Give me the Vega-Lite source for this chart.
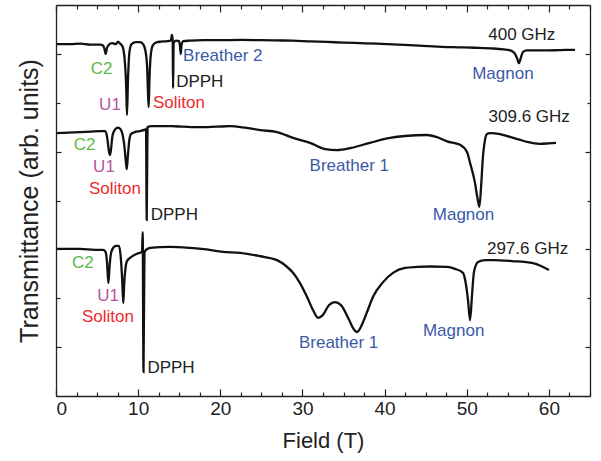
{
  "$schema": "https://vega.github.io/schema/vega-lite/v6.json",
  "width": 534,
  "height": 391,
  "autosize": "none",
  "padding": {"left": 56, "top": 5, "right": 11, "bottom": 65},
  "background": "white",
  "config": {
    "view": {"stroke": null},
    "font": "Liberation Sans",
    "axis": {"grid": false, "domainColor": "#222", "domainWidth": 1.3, "tickColor": "#222", "tickWidth": 1.2, "labelColor": "#222", "titleColor": "#222", "labelFont": "Liberation Sans", "titleFont": "Liberation Sans", "titleFontWeight": "normal"}
  },
  "datasets": {
    "traces": [
      {"series": "400", "x": 0.12, "y": 7.20}, {"series": "400", "x": 1.7, "y": 7.20}, {"series": "400", "x": 3.0, "y": 7.21}, {"series": "400", "x": 4.14, "y": 7.19}, {"series": "400", "x": 5.36, "y": 7.19}, {"series": "400", "x": 5.72, "y": 7.17}, {"series": "400", "x": 5.9, "y": 7.10}, {"series": "400", "x": 6.05, "y": 7.00}, {"series": "400", "x": 6.2, "y": 7.12}, {"series": "400", "x": 6.45, "y": 7.19}, {"series": "400", "x": 6.82, "y": 7.22}, {"series": "400", "x": 7.3, "y": 7.20}, {"series": "400", "x": 7.55, "y": 7.25}, {"series": "400", "x": 7.8, "y": 7.21}, {"series": "400", "x": 8.1, "y": 7.15}, {"series": "400", "x": 8.35, "y": 6.9}, {"series": "400", "x": 8.55, "y": 6.3}, {"series": "400", "x": 8.64, "y": 5.75}, {"series": "400", "x": 8.75, "y": 6.4}, {"series": "400", "x": 8.95, "y": 7.05}, {"series": "400", "x": 9.2, "y": 7.2}, {"series": "400", "x": 9.7, "y": 7.24}, {"series": "400", "x": 10.23, "y": 7.24}, {"series": "400", "x": 10.6, "y": 7.2}, {"series": "400", "x": 10.9, "y": 7.05}, {"series": "400", "x": 11.1, "y": 6.7}, {"series": "400", "x": 11.2, "y": 6.2}, {"series": "400", "x": 11.28, "y": 5.91}, {"series": "400", "x": 11.38, "y": 6.5}, {"series": "400", "x": 11.55, "y": 7.0}, {"series": "400", "x": 11.8, "y": 7.18}, {"series": "400", "x": 12.3, "y": 7.24}, {"series": "400", "x": 12.8, "y": 7.25}, {"series": "400", "x": 13.6, "y": 7.26}, {"series": "400", "x": 14.0, "y": 7.28}, {"series": "400", "x": 14.1, "y": 7.39}, {"series": "400", "x": 14.2, "y": 7.3}, {"series": "400", "x": 14.25, "y": 6.30}, {"series": "400", "x": 14.32, "y": 7.22}, {"series": "400", "x": 14.6, "y": 7.27}, {"series": "400", "x": 14.97, "y": 7.26}, {"series": "400", "x": 15.1, "y": 7.15}, {"series": "400", "x": 15.18, "y": 7.00}, {"series": "400", "x": 15.28, "y": 7.18}, {"series": "400", "x": 15.5, "y": 7.26}, {"series": "400", "x": 16.3, "y": 7.27}, {"series": "400", "x": 18.0, "y": 7.28}, {"series": "400", "x": 20.0, "y": 7.28}, {"series": "400", "x": 22.5, "y": 7.285}, {"series": "400", "x": 24.8, "y": 7.28}, {"series": "400", "x": 26.8, "y": 7.275}, {"series": "400", "x": 28.85, "y": 7.27}, {"series": "400", "x": 31, "y": 7.255}, {"series": "400", "x": 33, "y": 7.245}, {"series": "400", "x": 35, "y": 7.23}, {"series": "400", "x": 37, "y": 7.22}, {"series": "400", "x": 39, "y": 7.21}, {"series": "400", "x": 41, "y": 7.195}, {"series": "400", "x": 43, "y": 7.18}, {"series": "400", "x": 45.2, "y": 7.16}, {"series": "400", "x": 47, "y": 7.145}, {"series": "400", "x": 49, "y": 7.135}, {"series": "400", "x": 51, "y": 7.125}, {"series": "400", "x": 53.2, "y": 7.11}, {"series": "400", "x": 54.5, "y": 7.09}, {"series": "400", "x": 55.3, "y": 7.07}, {"series": "400", "x": 55.8, "y": 7.02}, {"series": "400", "x": 56.1, "y": 6.92}, {"series": "400", "x": 56.36, "y": 6.81}, {"series": "400", "x": 56.6, "y": 6.93}, {"series": "400", "x": 56.85, "y": 7.04}, {"series": "400", "x": 57.3, "y": 7.07}, {"series": "400", "x": 58, "y": 7.07}, {"series": "400", "x": 59.3, "y": 7.07}, {"series": "400", "x": 61, "y": 7.075}, {"series": "400", "x": 62, "y": 7.08}, {"series": "400", "x": 63.18, "y": 7.08},

      {"series": "309.6", "x": 0.12, "y": 5.38}, {"series": "309.6", "x": 1.5, "y": 5.39}, {"series": "309.6", "x": 2.92, "y": 5.40}, {"series": "309.6", "x": 4.2, "y": 5.41}, {"series": "309.6", "x": 5.36, "y": 5.42}, {"series": "309.6", "x": 5.96, "y": 5.42}, {"series": "309.6", "x": 6.15, "y": 5.36}, {"series": "309.6", "x": 6.3, "y": 5.2}, {"series": "309.6", "x": 6.45, "y": 5.0}, {"series": "309.6", "x": 6.57, "y": 4.93}, {"series": "309.6", "x": 6.7, "y": 5.05}, {"series": "309.6", "x": 6.85, "y": 5.3}, {"series": "309.6", "x": 7.06, "y": 5.42}, {"series": "309.6", "x": 7.55, "y": 5.49}, {"series": "309.6", "x": 7.85, "y": 5.46}, {"series": "309.6", "x": 8.1, "y": 5.35}, {"series": "309.6", "x": 8.3, "y": 5.15}, {"series": "309.6", "x": 8.5, "y": 4.8}, {"series": "309.6", "x": 8.61, "y": 4.64}, {"series": "309.6", "x": 8.72, "y": 4.85}, {"series": "309.6", "x": 8.9, "y": 5.2}, {"series": "309.6", "x": 9.13, "y": 5.36}, {"series": "309.6", "x": 9.6, "y": 5.40}, {"series": "309.6", "x": 10.23, "y": 5.42}, {"series": "309.6", "x": 10.83, "y": 5.45}, {"series": "309.6", "x": 10.96, "y": 5.46}, {"series": "309.6", "x": 11.04, "y": 3.60}, {"series": "309.6", "x": 11.14, "y": 5.50}, {"series": "309.6", "x": 11.6, "y": 5.52}, {"series": "309.6", "x": 12.66, "y": 5.52}, {"series": "309.6", "x": 14, "y": 5.52}, {"series": "309.6", "x": 15.5, "y": 5.51}, {"series": "309.6", "x": 17.53, "y": 5.50}, {"series": "309.6", "x": 19.5, "y": 5.51}, {"series": "309.6", "x": 21.18, "y": 5.52}, {"series": "309.6", "x": 23, "y": 5.49}, {"series": "309.6", "x": 24.83, "y": 5.44}, {"series": "309.6", "x": 26.9, "y": 5.40}, {"series": "309.6", "x": 28.85, "y": 5.28}, {"series": "309.6", "x": 30.92, "y": 5.18}, {"series": "309.6", "x": 32.75, "y": 5.05}, {"series": "309.6", "x": 34.21, "y": 5.03}, {"series": "309.6", "x": 35.79, "y": 5.07}, {"series": "309.6", "x": 38.22, "y": 5.18}, {"series": "309.6", "x": 40.66, "y": 5.28}, {"series": "309.6", "x": 42.48, "y": 5.32}, {"series": "309.6", "x": 45.16, "y": 5.34}, {"series": "309.6", "x": 46.3, "y": 5.30}, {"series": "309.6", "x": 47.6, "y": 5.21}, {"series": "309.6", "x": 49.18, "y": 5.14}, {"series": "309.6", "x": 50.03, "y": 4.99}, {"series": "309.6", "x": 50.4, "y": 4.77}, {"series": "309.6", "x": 51.0, "y": 4.36}, {"series": "309.6", "x": 51.3, "y": 4.05}, {"series": "309.6", "x": 51.53, "y": 3.87}, {"series": "309.6", "x": 51.75, "y": 4.3}, {"series": "309.6", "x": 51.94, "y": 4.83}, {"series": "309.6", "x": 52.22, "y": 5.24}, {"series": "309.6", "x": 52.46, "y": 5.36}, {"series": "309.6", "x": 52.83, "y": 5.38}, {"series": "309.6", "x": 54.05, "y": 5.36}, {"series": "309.6", "x": 55.27, "y": 5.30}, {"series": "309.6", "x": 56.3, "y": 5.25}, {"series": "309.6", "x": 57.33, "y": 5.20}, {"series": "309.6", "x": 58.92, "y": 5.16}, {"series": "309.6", "x": 60.0, "y": 5.17}, {"series": "309.6", "x": 60.86, "y": 5.18},

      {"series": "297.6", "x": 0.12, "y": 3.01}, {"series": "297.6", "x": 1.5, "y": 3.01}, {"series": "297.6", "x": 2.92, "y": 3.01}, {"series": "297.6", "x": 4.75, "y": 2.99}, {"series": "297.6", "x": 5.72, "y": 2.99}, {"series": "297.6", "x": 6.03, "y": 2.95}, {"series": "297.6", "x": 6.21, "y": 2.74}, {"series": "297.6", "x": 6.37, "y": 2.31}, {"series": "297.6", "x": 6.5, "y": 2.6}, {"series": "297.6", "x": 6.6, "y": 2.8}, {"series": "297.6", "x": 6.82, "y": 2.99}, {"series": "297.6", "x": 7.30, "y": 3.07}, {"series": "297.6", "x": 7.67, "y": 3.07}, {"series": "297.6", "x": 7.91, "y": 2.78}, {"series": "297.6", "x": 8.05, "y": 2.4}, {"series": "297.6", "x": 8.19, "y": 1.90}, {"series": "297.6", "x": 8.3, "y": 2.3}, {"series": "297.6", "x": 8.45, "y": 2.6}, {"series": "297.6", "x": 8.64, "y": 2.76}, {"series": "297.6", "x": 9.13, "y": 2.84}, {"series": "297.6", "x": 9.86, "y": 2.91}, {"series": "297.6", "x": 10.47, "y": 2.95}, {"series": "297.6", "x": 10.55, "y": 3.35}, {"series": "297.6", "x": 10.65, "y": 0.49}, {"series": "297.6", "x": 10.77, "y": 2.95}, {"series": "297.6", "x": 11.44, "y": 3.03}, {"series": "297.6", "x": 13.88, "y": 3.05}, {"series": "297.6", "x": 16.31, "y": 3.03}, {"series": "297.6", "x": 18.3, "y": 3.0}, {"series": "297.6", "x": 20.33, "y": 2.95}, {"series": "297.6", "x": 22.4, "y": 2.93}, {"series": "297.6", "x": 24.83, "y": 2.86}, {"series": "297.6", "x": 26.9, "y": 2.78}, {"series": "297.6", "x": 28.0, "y": 2.66}, {"series": "297.6", "x": 28.85, "y": 2.52}, {"series": "297.6", "x": 29.7, "y": 2.31}, {"series": "297.6", "x": 30.55, "y": 2.03}, {"series": "297.6", "x": 31.28, "y": 1.76}, {"series": "297.6", "x": 31.89, "y": 1.60}, {"series": "297.6", "x": 32.5, "y": 1.66}, {"series": "297.6", "x": 33.23, "y": 1.86}, {"series": "297.6", "x": 33.96, "y": 1.92}, {"series": "297.6", "x": 34.69, "y": 1.86}, {"series": "297.6", "x": 35.67, "y": 1.56}, {"series": "297.6", "x": 36.2, "y": 1.38}, {"series": "297.6", "x": 36.64, "y": 1.31}, {"series": "297.6", "x": 37.37, "y": 1.51}, {"series": "297.6", "x": 38.0, "y": 1.78}, {"series": "297.6", "x": 38.59, "y": 2.03}, {"series": "297.6", "x": 39.81, "y": 2.33}, {"series": "297.6", "x": 41.02, "y": 2.52}, {"series": "297.6", "x": 42.48, "y": 2.62}, {"series": "297.6", "x": 43.94, "y": 2.64}, {"series": "297.6", "x": 45.5, "y": 2.65}, {"series": "297.6", "x": 47.59, "y": 2.64}, {"series": "297.6", "x": 48.57, "y": 2.60}, {"series": "297.6", "x": 49.54, "y": 2.52}, {"series": "297.6", "x": 49.91, "y": 2.27}, {"series": "297.6", "x": 50.15, "y": 1.96}, {"series": "297.6", "x": 50.4, "y": 1.55}, {"series": "297.6", "x": 50.64, "y": 2.07}, {"series": "297.6", "x": 50.88, "y": 2.54}, {"series": "297.6", "x": 51.37, "y": 2.74}, {"series": "297.6", "x": 52.22, "y": 2.78}, {"series": "297.6", "x": 53.2, "y": 2.78}, {"series": "297.6", "x": 55.5, "y": 2.76}, {"series": "297.6", "x": 58.07, "y": 2.72}, {"series": "297.6", "x": 59.28, "y": 2.64}, {"series": "297.6", "x": 60.01, "y": 2.58}
    ],
    "labels": [
      {"text": "400 GHz", "kind": "freq", "x": 56.7, "y": 7.39},
      {"text": "Breather 2", "kind": "Breather", "x": 20.3, "y": 6.96},
      {"text": "C2", "kind": "C2", "x": 5.56, "y": 6.70},
      {"text": "DPPH", "kind": "DPPH", "x": 17.5, "y": 6.43},
      {"text": "U1", "kind": "U1", "x": 6.57, "y": 5.95},
      {"text": "Soliton", "kind": "Soliton", "x": 14.97, "y": 6.0},
      {"text": "Magnon", "kind": "Magnon", "x": 54.4, "y": 6.58},
      {"text": "309.6 GHz", "kind": "freq", "x": 57.6, "y": 5.71},
      {"text": "C2", "kind": "C2", "x": 3.47, "y": 5.14},
      {"text": "U1", "kind": "U1", "x": 5.84, "y": 4.69},
      {"text": "Soliton", "kind": "Soliton", "x": 7.18, "y": 4.24},
      {"text": "DPPH", "kind": "DPPH", "x": 14.4, "y": 3.70},
      {"text": "Breather 1", "kind": "Breather", "x": 35.7, "y": 4.71},
      {"text": "Magnon", "kind": "Magnon", "x": 49.6, "y": 3.70},
      {"text": "297.6 GHz", "kind": "freq", "x": 57.4, "y": 3.01},
      {"text": "C2", "kind": "C2", "x": 3.27, "y": 2.72},
      {"text": "U1", "kind": "U1", "x": 6.33, "y": 2.05},
      {"text": "Soliton", "kind": "Soliton", "x": 6.33, "y": 1.62},
      {"text": "DPPH", "kind": "DPPH", "x": 14.0, "y": 0.57},
      {"text": "Breather 1", "kind": "Breather", "x": 34.4, "y": 1.08},
      {"text": "Magnon", "kind": "Magnon", "x": 48.4, "y": 1.33}
    ]
  },
  "layer": [
    {
      "data": {"name": "traces"},
      "mark": {"type": "line", "color": "#111", "strokeWidth": 2.3, "interpolate": "monotone"},
      "encoding": {
        "x": {"field": "x", "type": "quantitative", "scale": {"domain": [0, 65], "nice": false, "zero": false},
          "axis": {"orient": "bottom", "title": "Field (T)", "titleFontSize": 22, "titlePadding": 12, "labelFontSize": 19, "labelPadding": 10,
            "values": [0, 2.5, 5, 7.5, 10, 12.5, 15, 17.5, 20, 22.5, 25, 27.5, 30, 32.5, 35, 37.5, 40, 42.5, 45, 47.5, 50, 52.5, 55, 57.5, 60, 62.5, 65],
            "labelExpr": "datum.value % 10 === 0 ? datum.label : ''",
            "tickSize": {"condition": {"test": "datum.value % 10 === 0", "value": -7}, "value": -4}}},
        "y": {"field": "y", "type": "quantitative", "scale": {"domain": [0, 8], "nice": false, "zero": false},
          "axis": {"orient": "left", "title": "Transmittance (arb. units)", "titleFontSize": 25, "titlePadding": 13, "labels": false,
            "values": [1, 2, 3, 4, 5, 6, 7],
            "tickSize": {"condition": {"test": "datum.value % 2 === 1", "value": -5}, "value": -4}}},
        "detail": {"field": "series"}
      }
    },
    {
      "data": {"name": "labels"},
      "mark": {"type": "text", "fontSize": 17, "font": "Liberation Sans", "align": "center", "baseline": "middle"},
      "encoding": {
        "x": {"field": "x", "type": "quantitative",
          "axis": {"orient": "top", "title": null, "labels": false,
            "values": [0, 2.5, 5, 7.5, 10, 12.5, 15, 17.5, 20, 22.5, 25, 27.5, 30, 32.5, 35, 37.5, 40, 42.5, 45, 47.5, 50, 52.5, 55, 57.5, 60, 62.5, 65],
            "tickSize": {"condition": {"test": "datum.value % 10 === 0", "value": -7}, "value": -4}}},
        "y": {"field": "y", "type": "quantitative",
          "axis": {"orient": "right", "title": null, "labels": false,
            "values": [1, 2, 3, 4, 5, 6, 7],
            "tickSize": {"condition": {"test": "datum.value % 2 === 1", "value": -5}, "value": -3}}},
        "text": {"field": "text"},
        "color": {"field": "kind", "type": "nominal", "legend": null,
          "scale": {"domain": ["freq", "DPPH", "C2", "U1", "Soliton", "Breather", "Magnon"],
                    "range": ["#222222", "#222222", "#5cba47", "#b4559f", "#ee2a2e", "#3a5aa8", "#3a5aa8"]}}
      }
    }
  ],
  "resolve": {"axis": {"x": "independent", "y": "independent"}}
}
